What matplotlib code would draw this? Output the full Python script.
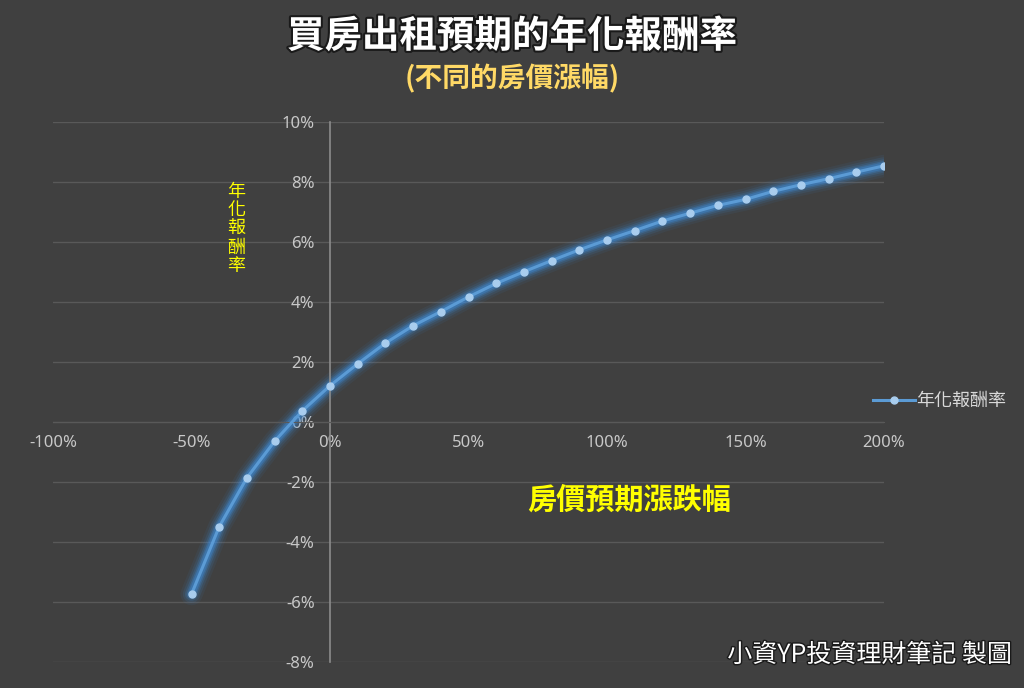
import numpy as np
import matplotlib
matplotlib.use("Agg")
import matplotlib.pyplot as plt
import matplotlib.patheffects as pe
from matplotlib.ticker import PercentFormatter, MultipleLocator

plt.rcParams["axes.unicode_minus"] = False

BG = "#404040"
GRID = "#595959"
AXIS = "#8c8c8c"
TICK = "#c8c8c8"
BLUE = "#5b9bd5"
GLOW = "#3d8fe0"
DOT = "#a9cdee"
YELLOW = "#ffff00"
GOLD = "#ffd966"
CJK = ["Noto Sans CJK TC", "DejaVu Sans"]

# house price change (x) vs expected annualised return (y)
price_change = [-0.5, -0.4, -0.3, -0.2, -0.1, 0.0, 0.1, 0.2, 0.3, 0.4, 0.5, 0.6,
                0.7, 0.8, 0.9, 1.0, 1.1, 1.2, 1.3, 1.4, 1.5, 1.6, 1.7, 1.8, 1.9, 2.0]
annual_return = [-0.0574, -0.0349, -0.0186, -0.0064, 0.0037, 0.0121, 0.0194, 0.0263,
                 0.0321, 0.0368, 0.0417, 0.0462, 0.0501, 0.0538, 0.0574, 0.0607,
                 0.0638, 0.0670, 0.0696, 0.0722, 0.0742, 0.0769, 0.0791, 0.0811,
                 0.0833, 0.0854]

fig = plt.figure(figsize=(10.24, 6.88), dpi=100, facecolor=BG)
ax = fig.add_axes([53 / 1024, 26 / 688, 831 / 1024, 540 / 688])
ax.set_facecolor(BG)
ax.set_xlim(-1.0, 2.0)
ax.set_ylim(-0.08, 0.10)

# grid + axes crossing at zero
ax.yaxis.set_major_locator(MultipleLocator(0.02))
ax.xaxis.set_major_locator(MultipleLocator(0.5))
ax.grid(True, axis="y", color=GRID, linewidth=1.0)
ax.set_axisbelow(True)
for s in ("top", "right"):
    ax.spines[s].set_visible(False)
ax.spines["left"].set_position(("data", 0))
ax.spines["left"].set_color(AXIS)
ax.spines["left"].set_linewidth(1.2)
ax.spines["bottom"].set_position(("data", 0))
ax.spines["bottom"].set_color(GRID)
ax.xaxis.set_major_formatter(PercentFormatter(1.0, decimals=0))
ax.yaxis.set_major_formatter(PercentFormatter(1.0, decimals=0))
ax.tick_params(length=0, labelsize=12, colors=TICK, labelfontfamily="Noto Sans")
ax.tick_params(axis="x", pad=9)
ax.tick_params(axis="y", pad=11)

# glow under the series
for lw, a in [(16, 0.07), (12.5, 0.11), (9.5, 0.17), (7, 0.26), (5, 0.35)]:
    ax.plot(price_change, annual_return, color=GLOW, lw=lw, alpha=a,
            solid_capstyle="round", solid_joinstyle="round", zorder=2)
ax.plot(price_change, annual_return, color=BLUE, lw=2.2, zorder=3,
        marker="o", markersize=5, markerfacecolor=DOT, markeredgecolor=DOT,
        label="年化報酬率")

# titles
fig.text(0.5, 1 - 36 / 688, "買房出租預期的年化報酬率", ha="center", va="center",
         fontsize=27, fontweight="bold", color="white", family=CJK,
         path_effects=[pe.withStroke(linewidth=3, foreground="#1a1a1a")])
fig.text(0.5, 1 - 78 / 688, "(不同的房價漲幅)", ha="center", va="center",
         fontsize=20, fontweight="bold", color=GOLD, family=CJK)

# stacked y label
fig.text(236 / 1024, 1 - 229 / 688, "\n".join("年化報酬率"), ha="center", va="center",
         fontsize=13, color=YELLOW, family=CJK, linespacing=1.05)
# x label
ax.text(1.08, -0.026, "房價預期漲跌幅", ha="center", va="center",
        fontsize=21, fontweight="bold", color=YELLOW, family=CJK)

leg = ax.legend(loc="center left", bbox_to_anchor=(866 / 1024, 1 - 401 / 688),
                bbox_transform=fig.transFigure, frameon=False, fontsize=13,
                handlelength=2.3, handletextpad=0.1, borderaxespad=0)
for t in leg.get_texts():
    t.set_color("#d9d9d9")
    t.set_family(CJK)

fig.text(1012 / 1024, 1 - 655 / 688, "小資YP投資理財筆記 製圖", ha="right", va="center",
         fontsize=18, color="white", family=CJK,
         path_effects=[pe.withStroke(linewidth=2, foreground="#1a1a1a")])

fig.savefig("out.png", dpi=100, facecolor=BG)
